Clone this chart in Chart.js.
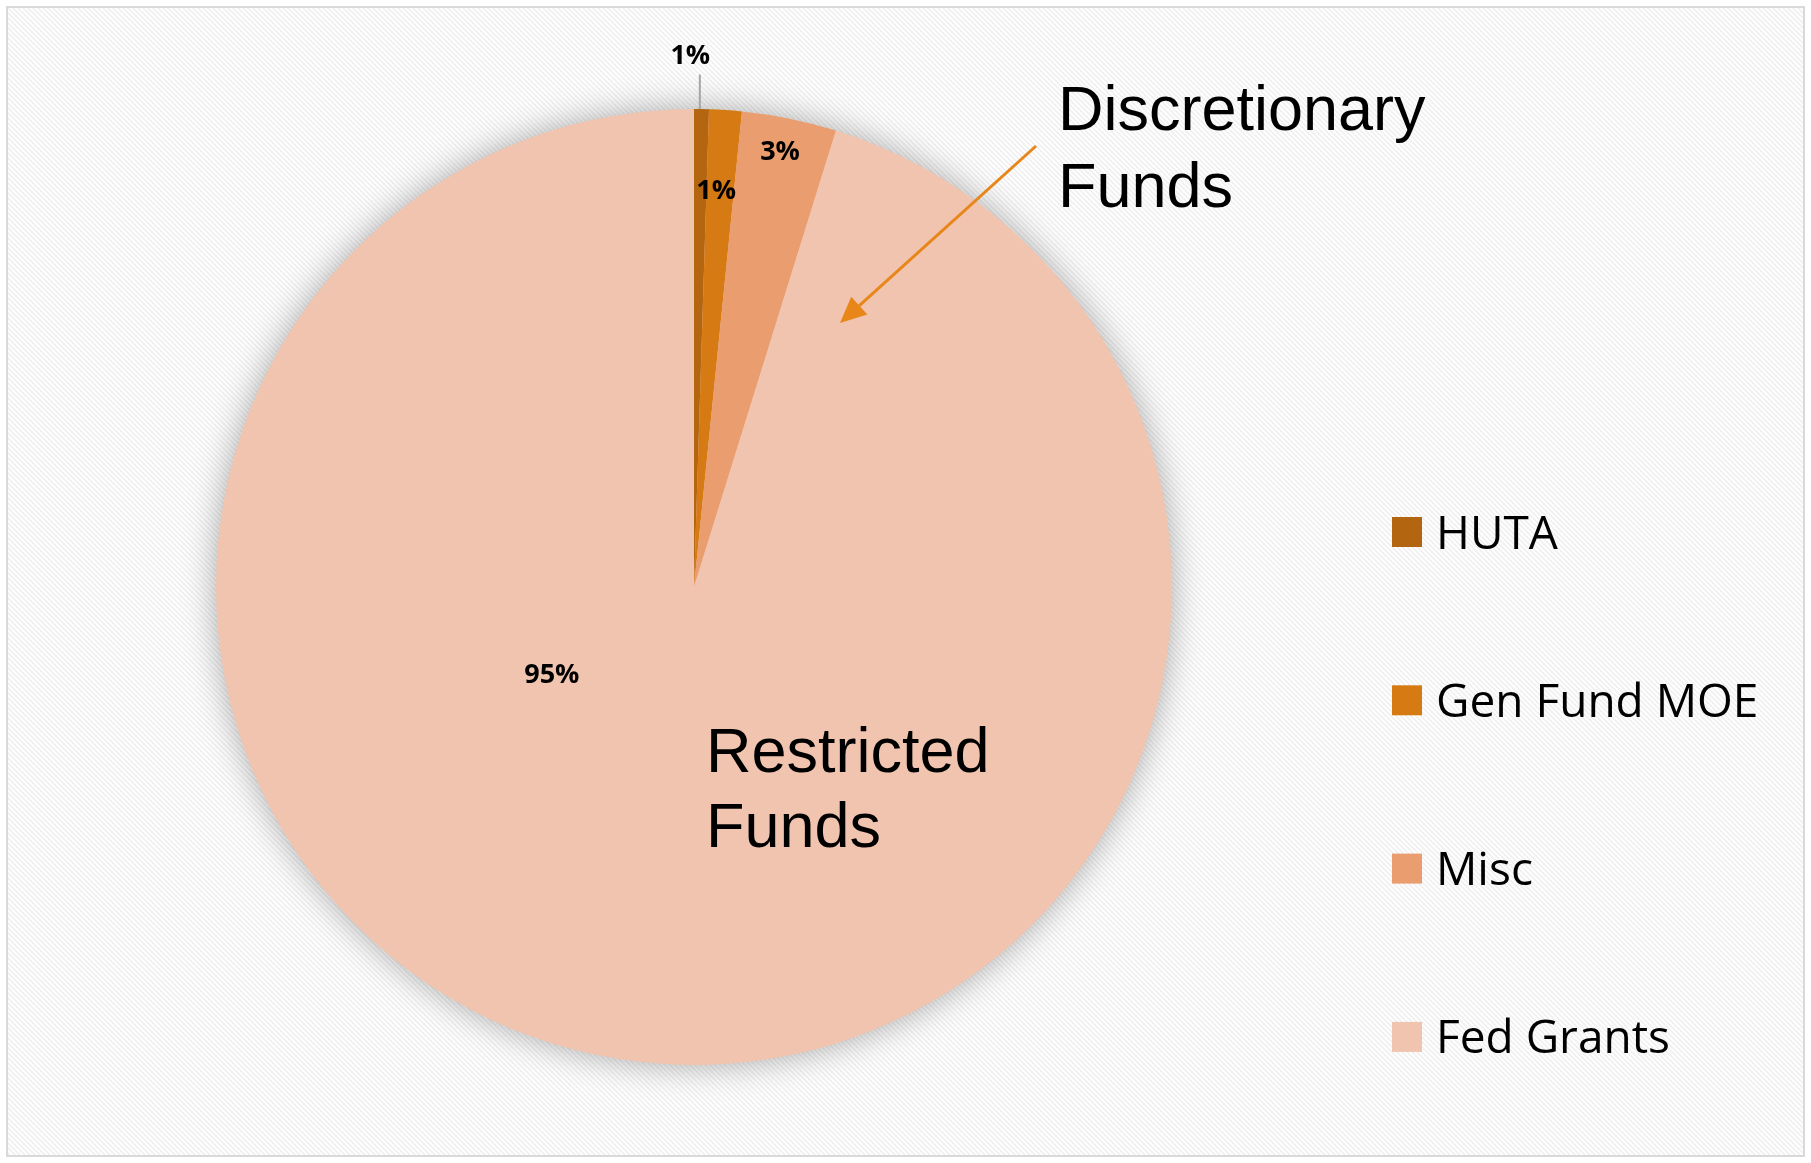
<!DOCTYPE html>
<html>
<head>
<meta charset="utf-8">
<script src="https://cdn.jsdelivr.net/npm/chart.js@4.4.1/dist/chart.umd.min.js"></script>
<style>
  html, body { margin: 0; padding: 0; background: #fff; }
  canvas { display: block; }
</style>
</head>
<body>
<canvas id="fundsChart" width="1811" height="1163"></canvas>
<script>
// Données du graphique (parts du budget, en %)
const categories = ['HUTA', 'Gen Fund MOE', 'Misc', 'Fed Grants'];
const shares = [0.5, 1.1, 3.2, 95.2];
const sliceColors = ['#B36510', '#D67A14', '#EA9D6E', '#F1C4AF'];

// Textes des annotations
const annotationTop = ['Discretionary', 'Funds'];
const annotationBottom = ['Restricted', 'Funds'];

// Placement des étiquettes : angle (degrés depuis midi, sens horaire) et fraction du rayon
const labelSpots = [
  { angle: -0.4, frac: 1.11, leader: true },
  { angle: 3.2, frac: 0.83 },
  { angle: 11.2, frac: 0.927 },
  { angle: 238.2, frac: 0.35 }
];

const total = shares.reduce((a, b) => a + b, 0);

// Motif de fond à rayures diagonales
function makeStripePattern(ctx) {
  const s = 5;
  const tile = document.createElement('canvas');
  tile.width = s;
  tile.height = s;
  const t = tile.getContext('2d');
  t.fillStyle = '#ffffff';
  t.fillRect(0, 0, s, s);
  t.strokeStyle = '#f0f0f0';
  t.lineWidth = 1.8;
  t.beginPath();
  t.moveTo(-s, -s); t.lineTo(2 * s, 2 * s);
  t.moveTo(-s, 0); t.lineTo(s, 2 * s);
  t.moveTo(0, -s); t.lineTo(2 * s, s);
  t.stroke();
  return ctx.createPattern(tile, 'repeat');
}

// Fond, cadre et ombre du camembert
const backgroundPlugin = {
  id: 'background',
  beforeDraw(chart) {
    const ctx = chart.ctx;
    ctx.save();
    ctx.fillStyle = '#ffffff';
    ctx.fillRect(0, 0, chart.width, chart.height);
    ctx.fillStyle = makeStripePattern(ctx);
    ctx.fillRect(7, 7, chart.width - 14, chart.height - 14);
    ctx.strokeStyle = '#d9d9d9';
    ctx.lineWidth = 2;
    ctx.strokeRect(7, 7, chart.width - 14, chart.height - 14);
    ctx.restore();
  },
  beforeDatasetsDraw(chart) {
    const arc = chart.getDatasetMeta(0).data[0];
    const ctx = chart.ctx;
    ctx.save();
    ctx.shadowColor = 'rgba(0, 0, 0, 0.34)';
    ctx.shadowBlur = 34;
    ctx.fillStyle = sliceColors[3];
    ctx.beginPath();
    ctx.arc(arc.x, arc.y, arc.outerRadius - 1, 0, Math.PI * 2);
    ctx.fill();
    ctx.restore();
  }
};

// Étiquettes de pourcentage, annotations, flèche et légende
const overlayPlugin = {
  id: 'overlay',
  afterDatasetsDraw(chart) {
    const ctx = chart.ctx;
    const meta = chart.getDatasetMeta(0);
    const cx = meta.data[0].x;
    const cy = meta.data[0].y;
    const R = meta.data[0].outerRadius;

    ctx.save();
    // pourcentages
    ctx.font = 'bold 27px "Open Sans"';
    ctx.fillStyle = '#000';
    ctx.textAlign = 'center';
    ctx.textBaseline = 'middle';
    shares.forEach((v, i) => {
      const spot = labelSpots[i];
      const a = spot.angle * Math.PI / 180;
      const x = cx + Math.sin(a) * R * spot.frac;
      const y = cy - Math.cos(a) * R * spot.frac;
      const pct = Math.round(v / total * 100 + 1e-9) + '%';
      ctx.fillText(pct, x, y);
      if (spot.leader) {
        const la = 0.7 * Math.PI / 180;
        ctx.strokeStyle = '#a6a6a6';
        ctx.lineWidth = 2;
        ctx.beginPath();
        ctx.moveTo(cx + Math.sin(la) * R, cy - R);
        ctx.lineTo(cx + Math.sin(la) * R, cy - R * 1.072);
        ctx.stroke();
      }
    });

    // annotations
    ctx.textAlign = 'left';
    ctx.textBaseline = 'alphabetic';
    ctx.font = '63px "Liberation Sans", Arial, sans-serif';
    ctx.fillText(annotationTop[0], 1058, 130);
    ctx.fillText(annotationTop[1], 1058, 207);
    ctx.fillText(annotationBottom[0], 706, 772);
    ctx.fillText(annotationBottom[1], 706, 847);

    // flèche
    const x1 = 1036, y1 = 146, x2 = 840, y2 = 323;
    const ang = Math.atan2(y2 - y1, x2 - x1);
    const headLen = 26, headW = 12;
    const bx = x2 - Math.cos(ang) * headLen;
    const by = y2 - Math.sin(ang) * headLen;
    ctx.strokeStyle = '#E8861A';
    ctx.fillStyle = '#E8861A';
    ctx.lineWidth = 3;
    ctx.beginPath();
    ctx.moveTo(x1, y1);
    ctx.lineTo(bx, by);
    ctx.stroke();
    ctx.beginPath();
    ctx.moveTo(x2, y2);
    ctx.lineTo(bx + Math.sin(ang) * headW, by - Math.cos(ang) * headW);
    ctx.lineTo(bx - Math.sin(ang) * headW, by + Math.cos(ang) * headW);
    ctx.closePath();
    ctx.fill();

    // légende
    ctx.font = '46px "Open Sans"';
    categories.forEach((name, i) => {
      const yc = 532 + i * 168.3;
      ctx.fillStyle = sliceColors[i];
      ctx.fillRect(1392, yc - 15, 30, 30);
      ctx.fillStyle = '#000';
      ctx.fillText(name, 1436, yc + 16.5);
    });
    ctx.restore();
  }
};

new Chart(document.getElementById('fundsChart'), {
  type: 'pie',
  data: {
    labels: categories,
    datasets: [{
      data: shares,
      backgroundColor: sliceColors,
      borderWidth: 0
    }]
  },
  options: {
    responsive: false,
    animation: false,
    events: [],
    layout: {
      padding: { left: 216, right: 639, top: 109, bottom: 98 }
    },
    plugins: {
      legend: { display: false },
      tooltip: { enabled: false }
    }
  },
  plugins: [backgroundPlugin, overlayPlugin]
});
</script>
</body>
</html>
